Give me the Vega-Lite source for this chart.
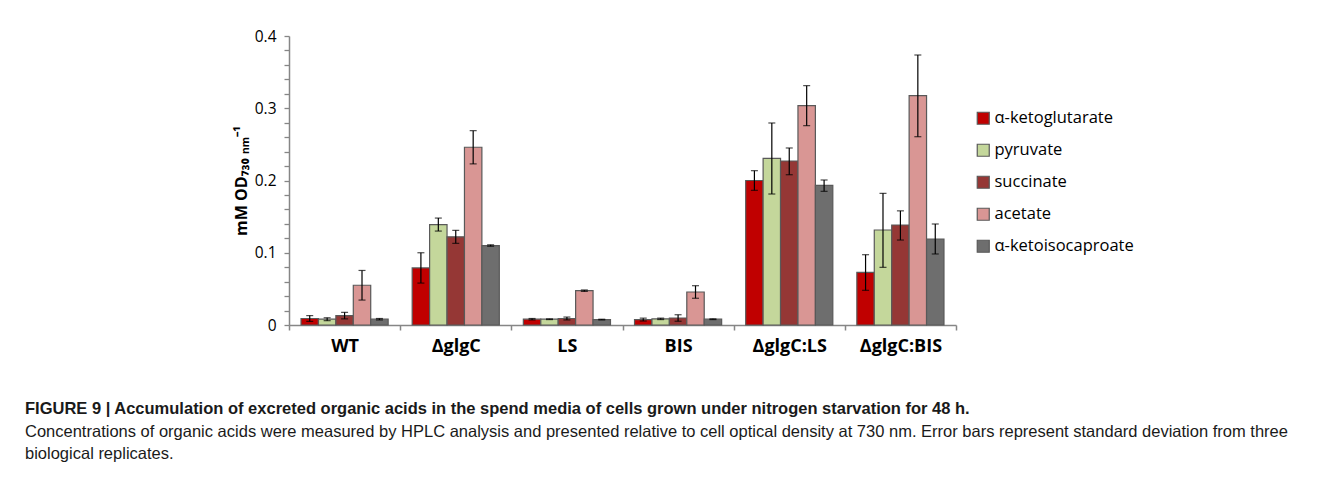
{
  "$schema": "https://vega.github.io/schema/vega-lite/v6.json",
  "autosize": {"type": "none"},
  "width": 667,
  "height": 289,
  "padding": {"left": 289, "top": 36, "right": 386, "bottom": 152},
  "background": "white",
  "title": {
    "text": "FIGURE 9 | Accumulation of excreted organic acids in the spend media of cells grown under nitrogen starvation for 48 h.",
    "subtitle": [
      "Concentrations of organic acids were measured by HPLC analysis and presented relative to cell optical density at 730 nm. Error bars represent standard deviation from three",
      "biological replicates."
    ],
    "orient": "bottom",
    "anchor": "start",
    "frame": "group",
    "dx": -264,
    "offset": 46,
    "font": "Liberation Sans",
    "fontSize": 16.5,
    "fontWeight": "bold",
    "color": "#1a1a1a",
    "subtitleFont": "Liberation Sans",
    "subtitleFontSize": 16.5,
    "subtitleColor": "#1a1a1a",
    "subtitleLineHeight": 22,
    "subtitlePadding": 6
  },
  "data": {
    "values": [
      {"strain": "WT", "acid": "α-ketoglutarate", "mean": 0.009, "lo": 0.005, "hi": 0.013},
      {"strain": "WT", "acid": "pyruvate", "mean": 0.008, "lo": 0.006, "hi": 0.010},
      {"strain": "WT", "acid": "succinate", "mean": 0.013, "lo": 0.0085, "hi": 0.0175},
      {"strain": "WT", "acid": "acetate", "mean": 0.055, "lo": 0.0345, "hi": 0.0755},
      {"strain": "WT", "acid": "α-ketoisocaproate", "mean": 0.008, "lo": 0.007, "hi": 0.009},
      {"strain": "ΔglgC", "acid": "α-ketoglutarate", "mean": 0.079, "lo": 0.058, "hi": 0.1},
      {"strain": "ΔglgC", "acid": "pyruvate", "mean": 0.139, "lo": 0.13, "hi": 0.148},
      {"strain": "ΔglgC", "acid": "succinate", "mean": 0.122, "lo": 0.113, "hi": 0.131},
      {"strain": "ΔglgC", "acid": "acetate", "mean": 0.246, "lo": 0.223, "hi": 0.269},
      {"strain": "ΔglgC", "acid": "α-ketoisocaproate", "mean": 0.110, "lo": 0.109, "hi": 0.111},
      {"strain": "LS", "acid": "α-ketoglutarate", "mean": 0.008, "lo": 0.007, "hi": 0.009},
      {"strain": "LS", "acid": "pyruvate", "mean": 0.008, "lo": 0.0075, "hi": 0.0085},
      {"strain": "LS", "acid": "succinate", "mean": 0.009, "lo": 0.007, "hi": 0.011},
      {"strain": "LS", "acid": "acetate", "mean": 0.0475, "lo": 0.0465, "hi": 0.0485},
      {"strain": "LS", "acid": "α-ketoisocaproate", "mean": 0.0075, "lo": 0.007, "hi": 0.008},
      {"strain": "BIS", "acid": "α-ketoglutarate", "mean": 0.0075, "lo": 0.0055, "hi": 0.0095},
      {"strain": "BIS", "acid": "pyruvate", "mean": 0.0085, "lo": 0.0075, "hi": 0.0095},
      {"strain": "BIS", "acid": "succinate", "mean": 0.0097, "lo": 0.0052, "hi": 0.0142},
      {"strain": "BIS", "acid": "acetate", "mean": 0.0457, "lo": 0.037, "hi": 0.0544},
      {"strain": "BIS", "acid": "α-ketoisocaproate", "mean": 0.008, "lo": 0.0075, "hi": 0.0085},
      {"strain": "ΔglgC:LS", "acid": "α-ketoglutarate", "mean": 0.200, "lo": 0.1864, "hi": 0.2136},
      {"strain": "ΔglgC:LS", "acid": "pyruvate", "mean": 0.2307, "lo": 0.1813, "hi": 0.2796},
      {"strain": "ΔglgC:LS", "acid": "succinate", "mean": 0.227, "lo": 0.208, "hi": 0.245},
      {"strain": "ΔglgC:LS", "acid": "acetate", "mean": 0.3036, "lo": 0.2759, "hi": 0.3313},
      {"strain": "ΔglgC:LS", "acid": "α-ketoisocaproate", "mean": 0.1933, "lo": 0.185, "hi": 0.2007},
      {"strain": "ΔglgC:BIS", "acid": "α-ketoglutarate", "mean": 0.0729, "lo": 0.048, "hi": 0.0973},
      {"strain": "ΔglgC:BIS", "acid": "pyruvate", "mean": 0.1315, "lo": 0.0798, "hi": 0.1822},
      {"strain": "ΔglgC:BIS", "acid": "succinate", "mean": 0.1384, "lo": 0.1176, "hi": 0.158},
      {"strain": "ΔglgC:BIS", "acid": "acetate", "mean": 0.3174, "lo": 0.2606, "hi": 0.3737},
      {"strain": "ΔglgC:BIS", "acid": "α-ketoisocaproate", "mean": 0.119, "lo": 0.0983, "hi": 0.1398}
    ]
  },
  "encoding": {
    "x": {
      "field": "strain",
      "type": "nominal",
      "sort": ["WT", "ΔglgC", "LS", "BIS", "ΔglgC:LS", "ΔglgC:BIS"],
      "scale": {"paddingInner": 0, "paddingOuter": 0},
      "axis": {
        "title": null,
        "labelAngle": 0,
        "tickBand": "extent",
        "domainColor": "#868686",
        "domainWidth": 1.5,
        "tickColor": "#868686",
        "tickWidth": 1.5,
        "tickSize": 5,
        "labelFont": "Open Sans",
        "labelFontSize": 18,
        "labelFontWeight": "bold",
        "labelColor": "#000000",
        "labelPadding": 7
      }
    },
    "xOffset": {
      "field": "acid",
      "type": "nominal",
      "sort": ["α-ketoglutarate", "pyruvate", "succinate", "acetate", "α-ketoisocaproate"],
      "scale": {"paddingInner": 0, "paddingOuter": 0.69}
    }
  },
  "resolve": {"axis": {"y": "independent"}},
  "layer": [
    {
      "mark": {"type": "bar", "stroke": "#595959", "strokeWidth": 1.2},
      "encoding": {
        "y": {
          "field": "mean",
          "type": "quantitative",
          "scale": {"domain": [0, 0.4], "nice": false},
          "axis": {
            "title": "mM OD₇₃₀ ₙₘ⁻¹",
            "titleFont": "Open Sans",
            "titleFontSize": 16,
            "titleFontWeight": "bold",
            "titleColor": "#000000",
            "titlePadding": 5,
            "values": [0, 0.02, 0.04, 0.06, 0.08, 0.1, 0.12, 0.14, 0.16, 0.18, 0.2, 0.22, 0.24, 0.26, 0.28, 0.3, 0.32, 0.34, 0.36, 0.38, 0.4],
            "labelExpr": "abs(datum.value*10 - round(datum.value*10)) < 0.001 ? (datum.value == 0 ? '0' : format(datum.value, '.1f')) : ''",
            "labelOverlap": false,
            "labelFlush": false,
            "labelBound": false,
            "grid": false,
            "domainColor": "#868686",
            "domainWidth": 1.5,
            "tickColor": "#868686",
            "tickWidth": 1.3,
            "tickSize": 5,
            "labelFont": "Open Sans",
            "labelFontSize": 15.5,
            "labelColor": "#000000",
            "labelPadding": 8
          }
        },
        "color": {
          "field": "acid",
          "type": "nominal",
          "scale": {
            "domain": ["α-ketoglutarate", "pyruvate", "succinate", "acetate", "α-ketoisocaproate"],
            "range": ["#C00000", "#C4D79B", "#953735", "#D99694", "#6E6E6E"]
          },
          "legend": {
            "title": null,
            "orient": "none",
            "legendX": 686,
            "legendY": 74,
            "symbolType": "square",
            "symbolSize": 144,
            "symbolStrokeColor": "#595959",
            "symbolStrokeWidth": 1.2,
            "symbolOpacity": 1,
            "labelFont": "Open Sans",
            "labelFontSize": 16.5,
            "labelColor": "#000000",
            "labelOffset": 3,
            "rowPadding": 14
          }
        }
      }
    },
    {
      "mark": {"type": "rule", "color": "#000000", "strokeWidth": 1.2},
      "encoding": {
        "y": {"field": "lo", "type": "quantitative", "axis": null},
        "y2": {"field": "hi"}
      }
    },
    {
      "mark": {"type": "tick", "color": "#000000", "size": 7, "thickness": 1.2},
      "encoding": {"y": {"field": "lo", "type": "quantitative", "axis": null}}
    },
    {
      "mark": {"type": "tick", "color": "#000000", "size": 7, "thickness": 1.2},
      "encoding": {"y": {"field": "hi", "type": "quantitative", "axis": null}}
    }
  ],
  "config": {"view": {"stroke": null}}
}
